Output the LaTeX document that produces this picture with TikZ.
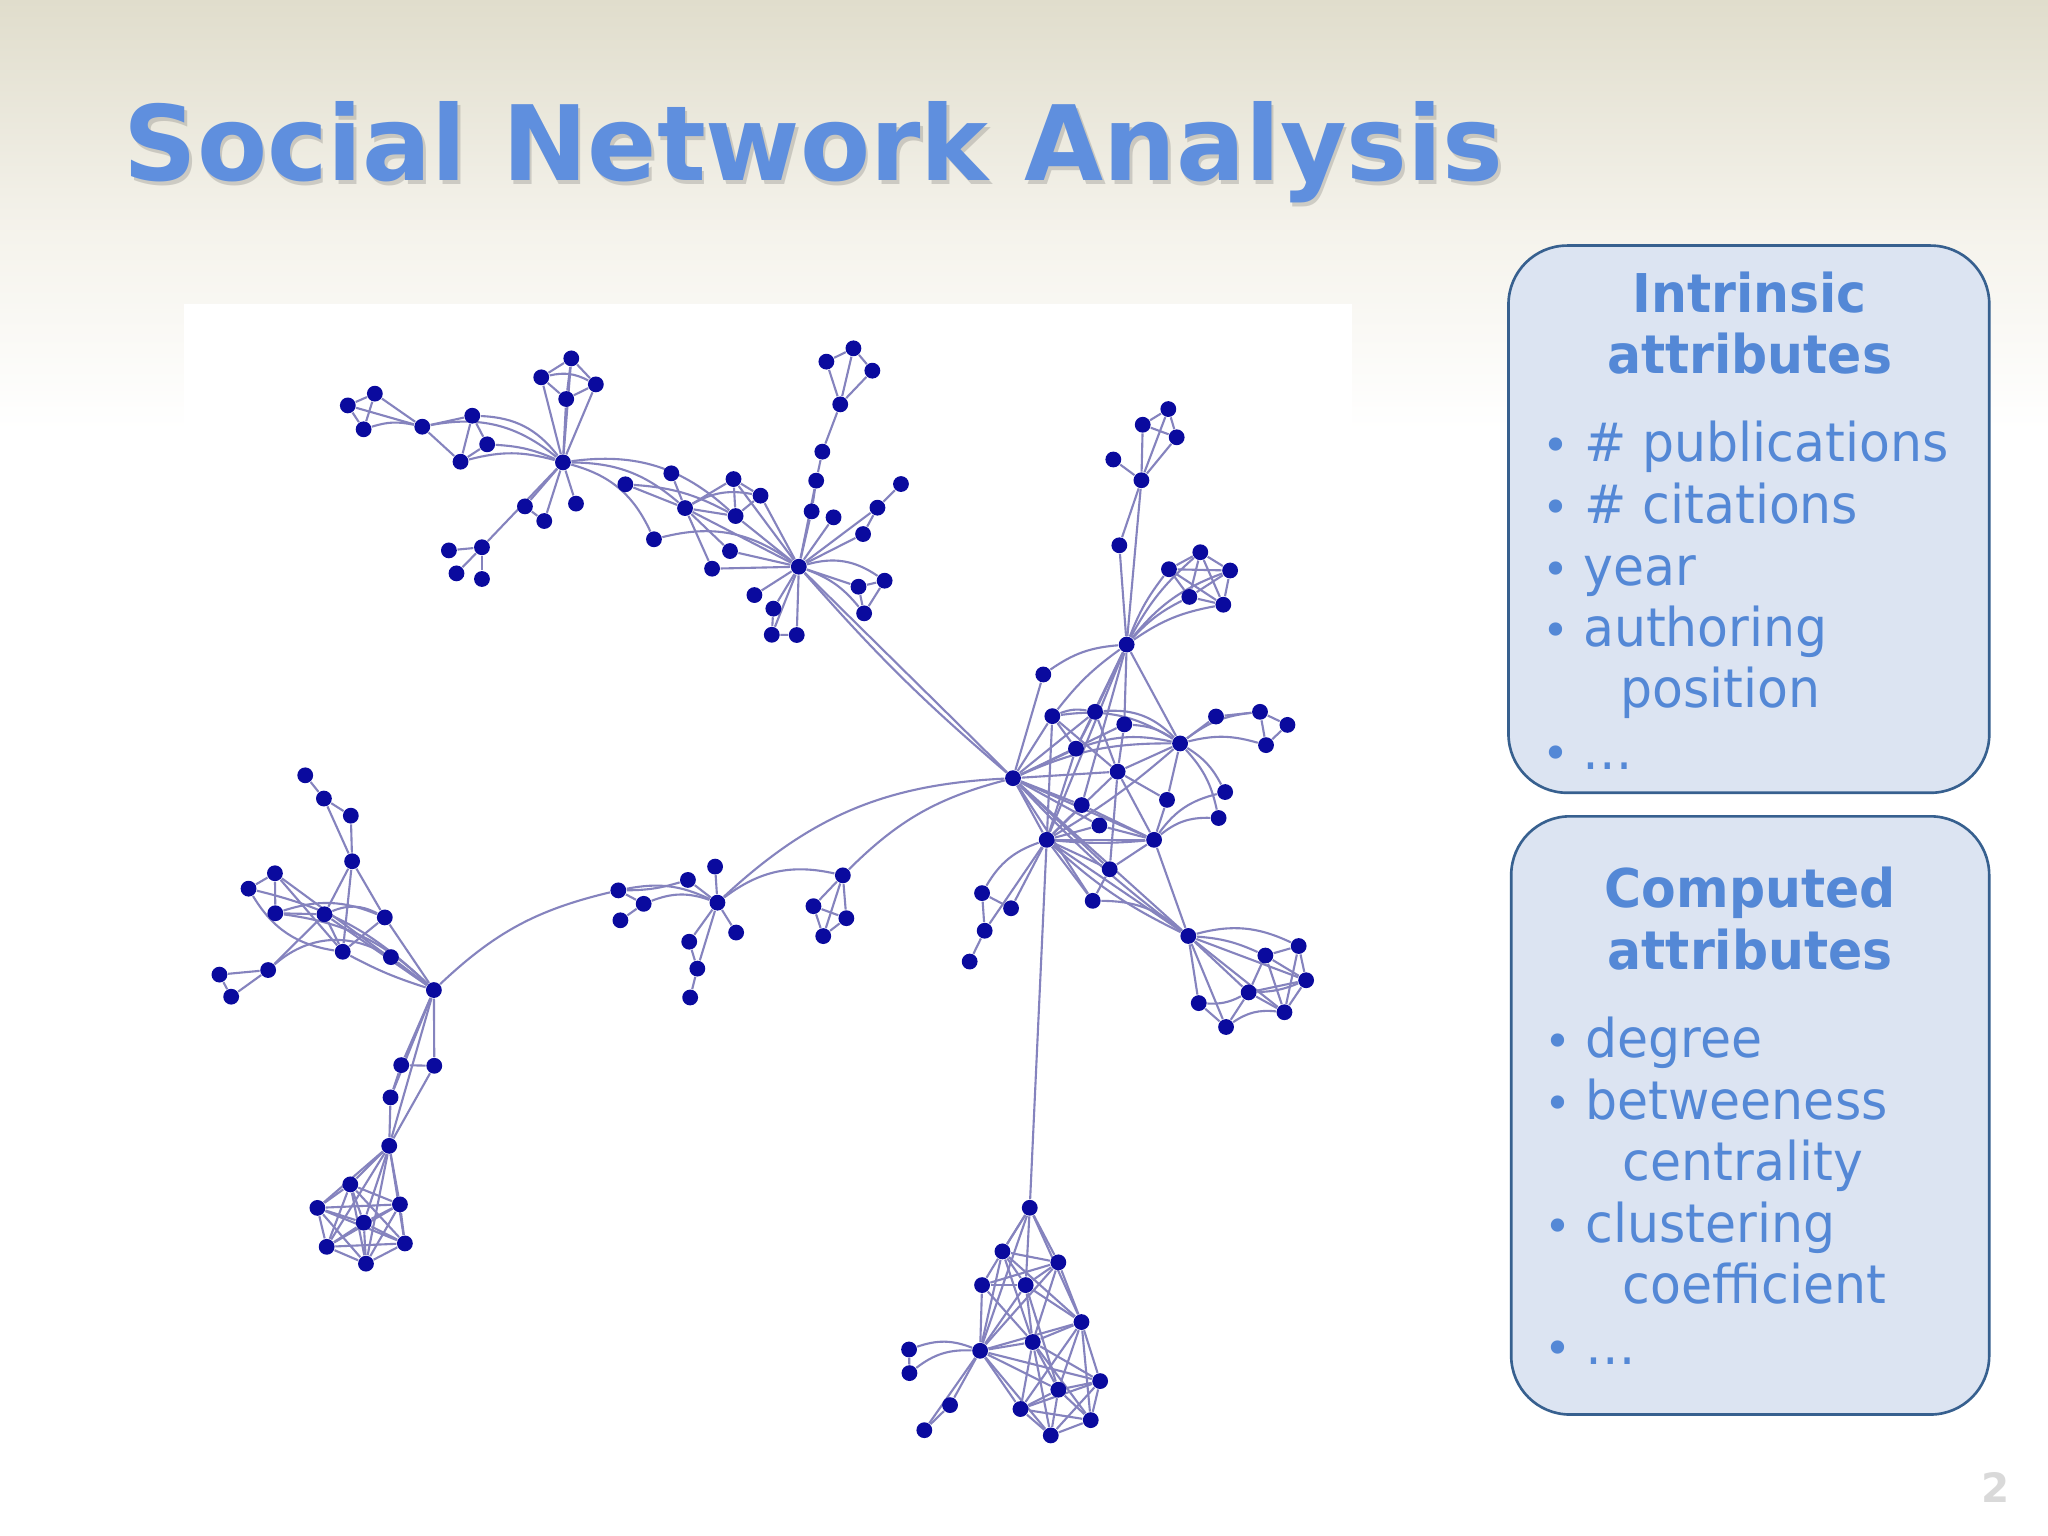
\documentclass[tikz,border=0pt]{standalone}
\usepackage{fontspec}
\setmainfont{DejaVu Sans}
\newfontfamily\panelfont[FakeStretch=0.945]{DejaVu Sans}
\newfontfamily\titlefont[FakeStretch=0.982]{DejaVu Sans}
\usetikzlibrary{calc}
\definecolor{vblue}{HTML}{0A0A9E}
\definecolor{eblue}{HTML}{8583BE}
\definecolor{txt}{HTML}{5488D6}
\definecolor{ttl}{HTML}{5F8FDE}
\definecolor{panelfill}{HTML}{DCE4F2}
\definecolor{panelline}{HTML}{37608F}
\definecolor{bgtop}{HTML}{E0DDCC}
\definecolor{bgmid}{HTML}{F5F3EC}
\pgfdeclarelayer{back}
\pgfdeclarelayer{edges}
\pgfsetlayers{back,edges,main}
\tikzset{
  vx/.style={circle,fill=vblue,draw=none,inner sep=0pt,minimum size=4.5pt},
  lnk/.style={draw=eblue,line width=0.6pt},
  panel/.style={draw=panelline,fill=panelfill,line width=0.75pt,rounded corners=16.7pt,inner sep=0pt},
  head/.style={text=txt,font=\panelfont\fontsize{15.2}{15.2}\selectfont\bfseries,anchor=base,inner sep=0pt},
  item/.style={text=txt,font=\panelfont\fontsize{15.2}{15.2}\selectfont,anchor=base west,inner sep=0pt},
  bul/.style={text=txt,font=\fontsize{13}{13}\selectfont,anchor=base,inner sep=0pt}
}
\begin{document}
\begin{tikzpicture}[x=0.0130612cm,y=-0.0130612cm]
\useasboundingbox (0,0) rectangle (1568,1176);
\begin{pgfonlayer}{back}
\fill[white] (0,0) rectangle (1568,1176);
\shade[top color=bgtop,bottom color=bgmid] (0,0) rectangle (1568,180);
\shade[top color=bgmid,bottom color=white] (0,180) rectangle (1568,330);
\fill[white] (141,233) rectangle (1035,1130);
\end{pgfonlayer}
% vertices
\foreach \n/\x/\y in {a0/431/354,a1/437.4/274.4,a2/414.4/288.9,a3/456.2/294.3,a4/433.5/305.5,
b0/323.3/326.7,b1/361.6/318.3,b2/373/340.2,b3/352.6/353.5,c1/266.3/310.4,c2/287/301.4,c3/278.4/328.7,
d1/401.9/387.7,d2/416.7/398.9,d3/441/385.6,e0/369/419,e1/343.7/421.4,e2/349.5/439,e3/369/443.3,
f0/611.6/433.9,g1/478.8/370.8,g2/514/362.4,g0/524.5/389,g3/561.6/366.8,g4/582.3/379.5,g5/563.2/395.1,
h1/500.7/412.9,h2/558.9/421.9,h3/545.2/435.4,i1/621.4/391.5,i2/624.9/368,i3/629.6/345.8,i4/643.3/309.6,
i5/632.7/276.9,i6/653.4/266.7,i7/667.9/283.8,j1/638.2/396.1,j2/660.8/408.9,j3/671.8/388.7,j4/689.8/370.6,
k1/577.6/455.6,k2/592.1/466,k3/590.9/486,k4/610/486.2,l1/677.3/444.6,l2/657.3/449.2,l3/661.6/469.6,
m1/894.5/313.2,m2/874.9/325.2,m3/900.9/334.8,m4/852.4/351.8,m0/873.9/367.7,m5/857/417.5,n0/862.6/493.5,
o1/919/422.8,o2/895/435.8,o3/941.8/436.8,o4/910.6/457,o5/936.6/463,p1/798.8/516.4,q0/775.6/595.8,
q1/805.7/548.3,q2/838.4/545,q3/860.8/554.6,q4/823.8/573.2,q5/855.7/590.8,r0/903.5/569.2,r1/931/548.6,
r2/964.7/545,r3/985.7/555,r4/969.3/570.5,s1/938/606.4,s2/933/626.3,s3/893.5/612.4,t0/883.6/643,
t1/828.2/616.4,t2/841.7/632,u0/801.4/643,u1/849.6/665.5,u2/836.6/689.7,v1/751.9/683.8,v2/774.1/695.4,
v3/753.9/712.6,v4/742.4/736.2,w0/909.8/716.6,w1/994.3/724.3,w2/968.8/731.6,w3/1000/750.5,w4/956/759.8,
w5/917.8/768,w6/983.4/775,w7/938.7/786.3,
A0/233.7/593.6,A1/248/611.4,A2/268.6/624.5,A3/269.6/659.4,B1/210.5/668.6,B2/190.3/680.4,B3/210.8/699.2,
B4/248.4/700,B5/294.6/702.4,B6/262.4/728.7,B7/299.3/732.8,C0/332.2/758,D1/205.3/742.7,D2/168/746.2,D3/177/763.1,
E1/307.2/815.5,E2/332.5/816,E3/299/840.2,F0/298/877.3,F1/268.2/906.8,F2/243/924.8,F3/306.2/922.1,F4/278.5/936.1,
F5/250.1/954.6,F6/310/952,F7/280.2/967.5,G0/549.3/691.1,G1/473.4/681.7,G2/492.8/692,G3/475/704.6,G4/526.7/673.7,
G5/547.5/663.5,G6/563.6/714,G7/527.7/721,G8/533.9/741.6,G9/528.4/763.7,H0/645.3/670.2,H1/622.8/693.8,H2/648/703,H3/630.3/716.7,
I0/788.4/924.7,I1/767.5/958.1,I2/810.3/966.5,I3/751.9/983.9,I4/785.3/983.9,I5/828/1012.2,I6/790.7/1027.5,I7/750.4/1034.2,
I8/842.3/1057.4,I9/810.3/1064,J1/696/1033.2,J2/696.3/1051.3,J3/727.4/1075.8,J4/707.7/1095,K1/781.3/1078.8,K2/835.1/1087.3,K3/804.5/1099}
{\node[vx] (\n) at (\x,\y) {};}
\begin{pgfonlayer}{edges}
% straight connectors
\foreach \p/\q in {a0/a1,a0/a2,a0/a3,a0/a4,a1/a2,a1/a3,a1/a4,a2/a4,a3/a4,
b0/b1,b0/b3,b1/b3,b2/b3,b1/b2,c1/c2,c1/c3,c2/c3,c2/b0,c1/b0,a0/d1,a0/d2,d1/d2,a0/d3,a0/e0,e0/e1,e0/e2,e0/e3,
g1/g0,g2/g0,g0/g3,g0/g5,g3/g4,g3/g5,g4/g5,g3/f0,g4/f0,g5/f0,g0/f0,h2/f0,h3/f0,g0/h2,g0/h3,f0/i1,i1/i2,i2/i3,f0/i2,i3/i4,
i4/i5,i4/i6,i4/i7,i5/i6,i6/i7,f0/j1,f0/j2,f0/j3,j3/j4,j2/j3,f0/k1,f0/k2,f0/k3,f0/k4,k2/k3,k3/k4,f0/l2,l1/l2,l1/l3,l2/l3,f0/q0,
m0/m1,m0/m2,m0/m3,m0/m4,m1/m2,m1/m3,m2/m3,m0/m5,m0/n0,m5/n0,p1/q0,n0/q2,n0/q3,n0/r0,n0/q4,n0/u0,n0/t1,
q0/q1,q0/q2,q0/q3,q0/q4,q0/q5,q0/t1,q0/t2,q0/t0,q0/u0,q0/u1,q0/u2,q1/q4,q1/q5,q2/q4,q2/q5,q3/q5,q5/r0,q5/s3,q5/t0,q5/u1,
r0/s3,s3/t0,r0/r1,r1/r2,r2/r3,r2/r4,r3/r4,t0/t1,t0/t2,t0/u0,t0/u1,t0/w0,u0/q1,u0/q4,u0/q5,u0/t1,u0/t2,u0/u1,u0/u2,u0/w0,q0/w0,u1/u2,
u0/v2,u0/v3,v1/v2,v1/v3,v3/v4,u0/I0,
w0/w3,w0/w4,w0/w5,w0/w6,w0/w7,w1/w2,w1/w3,w1/w6,w2/w3,w2/w4,w2/w6,w3/w4,w3/w6,w4/w7,w5/w7,w4/w6,
C0/B5,C0/B7,C0/B4,C0/B1,A0/A1,A1/A2,A1/A3,A2/A3,A3/B4,A3/B5,A3/B6,B1/B2,B1/B3,B3/B4,B1/B6,B4/B6,B5/B6,D1/B4,D1/D2,D1/D3,D2/D3,
C0/E1,C0/E2,C0/E3,C0/F0,E1/E2,E1/E3,E2/F0,E3/F0,G1/G2,G2/G3,G4/G0,G5/G0,G6/G0,G7/G0,G8/G0,G7/G8,G8/G9,H0/H1,H0/H2,H0/H3,H1/H2,H1/H3,H2/H3,
I7/J3,I7/J4,J1/J2,J3/J4,I0/I1,I0/I2,I0/I4,I0/I7,I5/I2,I5/I0}
{\draw[lnk] (\p) -- (\q);}
% arcs
\foreach \p/\q/\b in {a2/a3/20,b0/a0/25,b1/a0/25,b2/a0/10,b3/a0/15,c3/b0/15,a0/g0/20,a0/g5/25,a0/h1/25,g0/g4/20,h1/f0/25,f0/l1/25,f0/l3/15,g1/g5/12,
n0/q1/-8,n0/o1/10,n0/o2/8,n0/o3/15,n0/o4/10,n0/o5/12,p1/n0/15,q1/q2/15,q2/r0/25,q1/r0/20,q3/r0/15,q4/r0/15,q0/r0/12,r0/s1/15,r0/s2/15,t0/s1/20,t0/s2/20,r0/r2/15,r0/r4/15,u0/r0/-5,u0/t0/-5,
u2/w0/20,v1/u0/20,u0/w0/-8,q0/w0/-5,w0/w1/20,w0/w2/10,w4/w5/15,w7/w6/20,w3/w4/10,
B3/B5/20,B4/B5/25,B2/B6/-25,B3/C0/18,B2/C0/15,D1/B7/35,B6/C0/-5,
C0/G1/15,G1/G0/18,G2/G0/20,G4/G1/8,G0/H0/25,G0/q0/20,H0/q0/15,I7/J1/-20,I7/J2/-20,f0/q0/-4}
{\draw[lnk] (\p) to[bend left=\b] (\q);}
% cliques
\foreach \p/\rest in {F0/{F1,F2,F3,F4,F5,F6,F7},F1/{F2,F3,F4,F5,F6,F7},F2/{F3,F4,F5,F6,F7},F3/{F4,F5,F6,F7},F4/{F5,F6,F7},F5/{F6,F7},F6/{F7},
o1/{o2,o3,o4,o5},o2/{o3,o4,o5},o3/{o4,o5},o4/{o5},
I1/{I2,I3,I4,I5,I6,I7,I0},I2/{I3,I4,I6,I7},I3/{I4,I6,I7},I4/{I5,I6,I7,I9},I5/{I6,I7,I8,I9,K1,K2},I6/{I7,I8,I9,K1,K2,K3},I7/{I8,I9,K1,K3},I8/{I9,K1,K2,K3},I9/{K1,K2,K3},K1/{K2,K3},K2/{K3}}
{\foreach \q in \rest {\draw[lnk] (\p) -- (\q);}}
\end{pgfonlayer}
% panels
\node[panel,minimum width=136.8pt,minimum height=155.7pt] (box1) at (1339,397.5) {};
\node[panel,minimum width=136pt,minimum height=170.2pt] (box2) at (1340,854) {};
% title
\node[anchor=base west,inner sep=0pt,text=black!50!bgmid,opacity=.3,font=\titlefont\fontsize{29.6}{29.6}\selectfont\bfseries] (tshadow) at (96,141) {Social Network Analysis};
\node[anchor=base west,inner sep=0pt,text=ttl,font=\titlefont\fontsize{29.6}{29.6}\selectfont\bfseries] (title) at (94,138.3) {Social Network Analysis};
% panel 1
\node[head] (h1a) at (1339.5,239) {Intrinsic};
\node[head] (h1b) at (1339.5,286) {attributes};
\foreach \n/\bx/\tx/\by/\s in {pa/1191/1212.5/353.5/{\# publications},pb/1191/1212.5/400.7/{\# citations},pc/1191/1212/448/year,pd/1191/1211.5/495/authoring,pf/1191/1211/589/…}
{\node[bul] (b\n) at (\bx,\by) {•}; \node[item] (\n) at (\tx,\by) {\s};}
\node[item] (pe) at (1240,542) {position};
% panel 2
\node[head] (h2a) at (1340,695) {Computed};
\node[head] (h2b) at (1340,742) {attributes};
\foreach \n/\bx/\tx/\by/\s in {qa/1193/1213.5/810/degree,qb/1193/1213.5/857/betweeness,qd/1193/1213.5/951/clustering,qf/1193/1213/1045/…}
{\node[bul] (b\n) at (\bx,\by) {•}; \node[item] (\n) at (\tx,\by) {\s};}
\node[item] (qc) at (1242,904) {centrality};
\node[item] (qe) at (1242,998) {coefficient};
% page number
\node[anchor=base,inner sep=0pt,text=black!15,font=\fontsize{11.5}{11.5}\selectfont\bfseries] (pg) at (1528,1150) {2};
\end{tikzpicture}
\end{document}
